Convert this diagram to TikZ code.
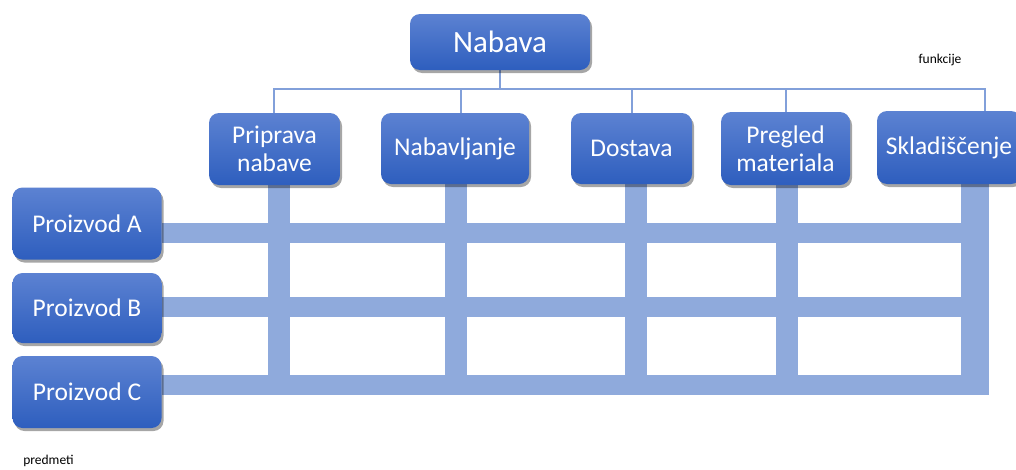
\documentclass[tikz,border=0pt]{standalone}
\usepackage{fontspec}
\setmainfont{Carlito}
\usetikzlibrary{shadows}
\pgfdeclarelayer{bars}
\pgfsetlayers{bars,main}
\definecolor{boxtop}{RGB}{92,130,210}
\definecolor{boxbot}{RGB}{46,94,190}
\definecolor{barblue}{RGB}{143,170,220}
\definecolor{thinblue}{RGB}{130,160,218}
\tikzset{
  box/.style={rectangle, rounded corners=10pt, top color=boxtop, bottom color=boxbot,
    draw=none, text=white, align=center, inner sep=0pt,
    font=\fontsize{25.5}{28}\selectfont,
    drop shadow={shadow xshift=2pt, shadow yshift=-3pt, opacity=0.35, fill=black}},
  thin/.style={draw=thinblue, line width=1.4pt},
  hbar/.style={draw=barblue, line width=20pt, line cap=butt},
  vbar/.style={draw=barblue, line width=22pt, line cap=butt},
  note/.style={font=\fontsize{13.5}{15}\selectfont, text=black, inner sep=0pt}
}
\begin{document}
\begin{tikzpicture}[x=1pt, y=-1pt]
  \clip (0,0) rectangle (1016,469);
  \begin{pgfonlayer}{bars}
    \fill[white] (0,0) rectangle (1016,469);
  \end{pgfonlayer}

  % grid anchors
  \coordinate (rowA) at (975,233);
  \coordinate (rowB) at (975,307);
  \coordinate (rowC) at (975,385);
  \coordinate (colP) at (279,395);
  \coordinate (colN) at (456,395);
  \coordinate (colD) at (636,395);
  \coordinate (colR) at (787,395);
  \coordinate (colS) at (975,395);

  % top of the tree
  \node[box, minimum width=180pt, minimum height=56pt, font=\fontsize{31}{34}\selectfont]
    (nab) at (500,42) {Nabava};

  % functions
  \node[box, minimum width=131pt, minimum height=72pt] (pri) at (274.5,149) {Priprava\\nabave};
  \node[box, minimum width=148pt, minimum height=71pt] (nbv) at (455,148.5) {Nabavljanje};
  \node[box, minimum width=121pt, minimum height=71pt] (dos) at (631.5,148.5) {Dostava};
  \node[box, minimum width=129pt, minimum height=73pt] (pre) at (785.5,148.5) {Pregled\\materiala};
  \node[box, minimum width=144pt, minimum height=73pt] (skl) at (949,147.5) {Skladiščenje};

  % products
  \node[box, minimum width=149pt, minimum height=72pt] (pA) at (87,223.5) {Proizvod A};
  \node[box, minimum width=149pt, minimum height=70pt] (pB) at (87,308) {Proizvod B};
  \node[box, minimum width=149pt, minimum height=72pt] (pC) at (87,392) {Proizvod C};

  % thick matrix bars, kept behind the boxes
  \begin{pgfonlayer}{bars}
    \draw[vbar] (pri.south -| colP) -- (colP);
    \draw[vbar] (nbv.south -| colN) -- (colN);
    \draw[vbar] (dos.south -| colD) -- (colD);
    \draw[vbar] (pre.south -| colR) -- (colR);
    \draw[vbar, line width=28pt] (skl.south -| colS) -- (colS);
    \draw[hbar] (pA.east |- rowA) -- (rowA);
    \draw[hbar] (pB.east |- rowB) -- (rowB);
    \draw[hbar] (pC.east |- rowC) -- (rowC);
  \end{pgfonlayer}

  % thin tree connectors
  \coordinate (hub) at (500,89);
  \begin{pgfonlayer}{bars}
    \draw[thin] (nab.south) -- (hub);
    \draw[thin] (pri.north -| 274,0) -- (274,89) -- (985,89) -- (skl.north -| 985,0);
    \draw[thin] (nbv.north -| 461,0) -- (461,89);
    \draw[thin] (dos.north -| 632,0) -- (632,89);
    \draw[thin] (pre.north -| 786,0) -- (786,89);
  \end{pgfonlayer}

  % axis notes
  \node[note] (fn) at (940,60) {funkcije};
  \node[note] (pd) at (48.5,461) {predmeti};
\end{tikzpicture}
\end{document}
